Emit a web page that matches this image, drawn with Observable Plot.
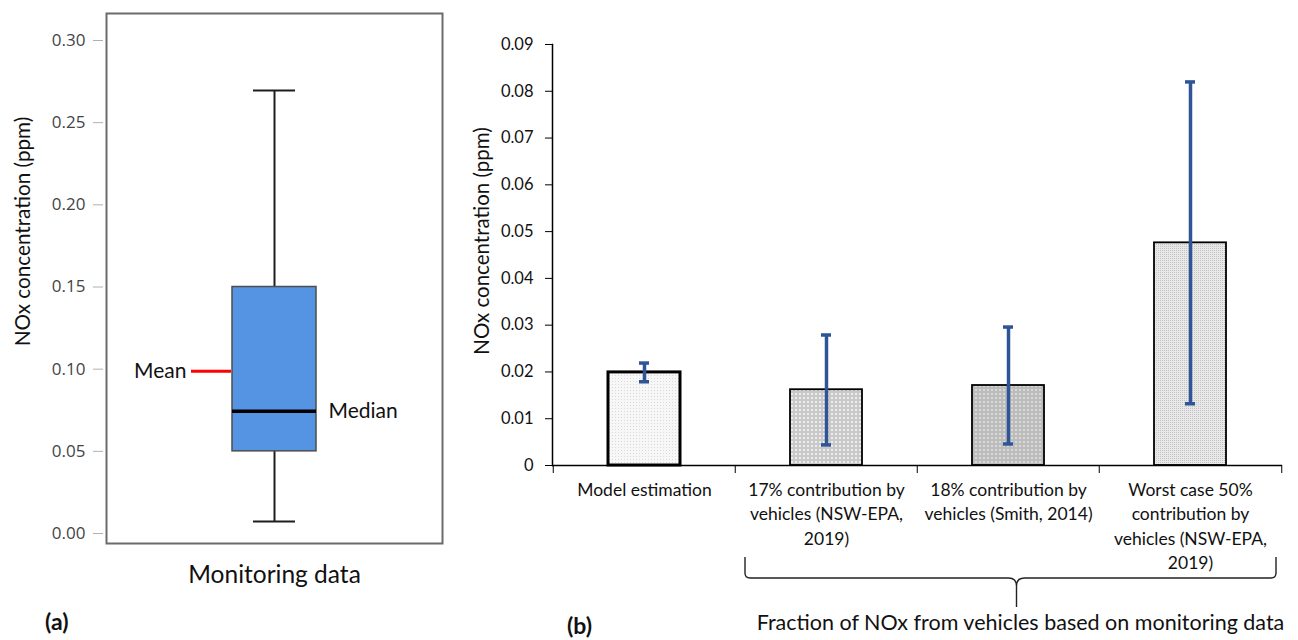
<!DOCTYPE html>
<html>
<head>
<meta charset="utf-8">
<script src="https://cdn.jsdelivr.net/npm/d3@7"></script>
<script src="https://cdn.jsdelivr.net/npm/@observablehq/plot@0.6"></script>
<style>
  body { margin: 0; background: #fff; }
  #wrap { position: relative; width: 1298px; height: 640px; font-family: Lato, "Open Sans", sans-serif; overflow: hidden; }
  .panel { position: absolute; top: 0; }
  .tag { position: absolute; font-weight: bold; font-size: 23px; line-height: 1; color: #111; font-family: Lato, sans-serif; }
</style>
</head>
<body>
<div id="wrap">
  <div id="pa" class="panel" style="left:0"></div>
  <div id="pb" class="panel" style="left:450px"></div>
  <div class="tag" style="left:45px; top:610px;">(a)</div>
  <div class="tag" style="left:567px; top:614px;">(b)</div>
</div>
<script>
// ---------- Panel (a): box plot of monitoring data ----------
const boxLabels = ["Monitoring data"];
const boxMin = [0.0073];
const boxQ1 = [0.050];
const boxMedian = [0.0744];
const boxQ3 = [0.150];
const boxMax = [0.2695];
const boxMean = [0.0988];
const boxTicks = [0, 0.05, 0.10, 0.15, 0.20, 0.25, 0.30];

// ---------- Panel (b): bar chart with error bars ----------
const barCategories = [
  "Model estimation",
  "17% contribution by\nvehicles (NSW-EPA,\n2019)",
  "18% contribution by\nvehicles (Smith, 2014)",
  "Worst case 50%\ncontribution by\nvehicles (NSW-EPA,\n2019)"
];
const barValues = [0.0199, 0.0162, 0.0171, 0.0476];
const errLow = [0.0179, 0.0044, 0.0046, 0.0132];
const errHigh = [0.0219, 0.0279, 0.0296, 0.0820];
const barTicks = [0, 0.01, 0.02, 0.03, 0.04, 0.05, 0.06, 0.07, 0.08, 0.09];
const yLabel = "NOx concentration (ppm)";
const groupLabel = "Fraction of NOx from vehicles based on monitoring data";

const boxTable = boxLabels.map((c, i) => ({
  cat: c, min: boxMin[i], q1: boxQ1[i], median: boxMedian[i], q3: boxQ3[i], max: boxMax[i], mean: boxMean[i]
}));
const barTable = barCategories.map((c, i) => ({ cat: c, value: barValues[i], lo: errLow[i], hi: errHigh[i] }));

const plotA = Plot.plot({
  width: 450,
  height: 640,
  marginLeft: 106,
  marginRight: 8,
  marginTop: 13,
  marginBottom: 97,
  style: { fontFamily: "Lato, sans-serif", background: "transparent" },
  x: { type: "band", domain: boxLabels, padding: 0.6, label: null },
  y: { domain: [-0.006085, 0.31643], label: null },
  marks: [
    Plot.ruleX(boxTable, { x: "cat", y1: "min", y2: "q1", stroke: "#1e1e1e", strokeWidth: 2 }),
    Plot.ruleX(boxTable, { x: "cat", y1: "q3", y2: "max", stroke: "#1e1e1e", strokeWidth: 2 }),
    Plot.tickY(boxTable, { x: "cat", y: "min", stroke: "#1e1e1e", strokeWidth: 2, insetLeft: 21, insetRight: 21 }),
    Plot.tickY(boxTable, { x: "cat", y: "max", stroke: "#1e1e1e", strokeWidth: 2, insetLeft: 21, insetRight: 21 }),
    Plot.barY(boxTable, { x: "cat", y1: "q1", y2: "q3", fill: "#5593e3", stroke: "#4d4d4d", strokeWidth: 1.5 }),
    Plot.tickY(boxTable, { x: "cat", y: "median", stroke: "#000", strokeWidth: 3.5 }),
    Plot.tickY(boxTable, { x: "cat", y: "mean", stroke: "#ff0000", strokeWidth: 3, insetRight: 44, dx: -41 }),
    Plot.text(boxTable, { x: "cat", y: "mean", text: () => "Mean", dx: -88, textAnchor: "end", fontSize: 21, fill: "#111" }),
    Plot.text(boxTable, { x: "cat", y: "median", text: () => "Median", dx: 54, textAnchor: "start", fontSize: 21, fill: "#111" }),
    Plot.frame({ stroke: "#6b6b6b", strokeWidth: 2 }),
    Plot.axisY({ ticks: boxTicks, tickFormat: d3.format(".2f"), tickSize: 10, tickPadding: 8, dx: -3,
      stroke: "#b0b0b0", fill: "#444", fontSize: 17, fontFamily: "Open Sans, sans-serif", label: null }),
    Plot.axisX({ tickSize: 0, tickPadding: 22, fontSize: 24.5, fill: "#111", label: null }),
    Plot.text([yLabel], { frameAnchor: "left", textAnchor: "middle", rotate: -90, dx: -83, dy: -47, fontSize: 20.7, fill: "#111" })
  ]
});
document.getElementById("pa").appendChild(plotA);

function patternDefs() {
  const defs = d3.create("svg:defs");
  function pat(id, size, bg, cells) {
    const p = defs.append("pattern").attr("id", id).attr("width", size).attr("height", size)
      .attr("patternUnits", "userSpaceOnUse");
    p.append("rect").attr("width", size).attr("height", size).attr("fill", bg);
    for (const [x, y, w, h, c] of cells) p.append("rect").attr("x", x).attr("y", y).attr("width", w).attr("height", h).attr("fill", c);
  }
  pat("pat1", 3, "#f7f7f7", [[0, 0, 1, 1, "#dadada"]]);
  pat("pat2", 4, "#c9c9c9", [[1, 1, 2, 2, "#ececec"]]);
  pat("pat3", 4, "#bcbcbc", [[1, 1, 2, 2, "#d9d9d9"]]);
  pat("pat4", 2, "#e8e8e8", [[0, 0, 1, 1, "#c4c4c4"]]);
  return defs.node();
}

function brace(index, scales, values, dimensions) {
  const x = scales.x;
  const step = x(barCategories[1]) - x(barCategories[0]);
  const bottom = dimensions.height - dimensions.marginBottom;
  const x0 = x(barCategories[1]) + 10;
  const x1 = x(barCategories[3]) + step - 5;
  const xm = (x0 + x1) / 2 + 6;
  const yTop = bottom + 92, yH = bottom + 113, yTip = bottom + 142;
  const g = d3.create("svg:g").attr("fill", "none").attr("stroke", "#222").attr("stroke-width", 1.4);
  g.append("path").attr("d",
    `M${x0},${yTop} V${yH - 5} Q${x0},${yH} ${x0 + 5},${yH} H${xm - 8} Q${xm},${yH} ${xm},${yH + 8} V${yTip}` +
    ` M${xm},${yH + 8} Q${xm},${yH} ${xm + 8},${yH} H${x1 - 5} Q${x1},${yH} ${x1},${yH - 5} V${yTop}`);
  g.append("text").attr("x", xm + 4).attr("y", bottom + 157).attr("dy", "0.35em")
    .attr("text-anchor", "middle").attr("stroke", "none").attr("fill", "#111")
    .attr("font-size", 21.5).attr("font-family", "Lato, sans-serif").text(groupLabel);
  return g.node();
}

const patIds = ["url(#pat1)", "url(#pat2)", "url(#pat3)", "url(#pat4)"];

const plotB = Plot.plot({
  width: 848,
  height: 640,
  marginLeft: 102,
  marginRight: 16,
  marginTop: 44,
  marginBottom: 175,
  style: { fontFamily: "Lato, sans-serif", background: "transparent" },
  x: { type: "band", domain: barCategories, padding: 0, label: null },
  y: { domain: [0, 0.09], label: null },
  marks: [
    patternDefs,
    ...barTable.map((d, i) => Plot.barY([d], { x: "cat", y: "value", fill: patIds[i], stroke: "#000",
      strokeWidth: i === 0 ? 3 : 1.8, insetLeft: 55, insetRight: 55 })),
    Plot.ruleX(barTable, { x: "cat", y1: "lo", y2: "hi", stroke: "#2f5597", strokeWidth: 3.5 }),
    Plot.tickY(barTable, { x: "cat", y: "lo", stroke: "#2f5597", strokeWidth: 3.5, insetLeft: 86, insetRight: 86 }),
    Plot.tickY(barTable, { x: "cat", y: "hi", stroke: "#2f5597", strokeWidth: 3.5, insetLeft: 86, insetRight: 86 }),
    Plot.frame({ anchor: "left", stroke: "#000", strokeWidth: 1.5 }),
    Plot.ruleY([0], { stroke: "#000", strokeWidth: 1.5 }),
    Plot.axisY({ ticks: barTicks, tickFormat: d => d === 0 ? "0" : d.toFixed(2), tickSize: 7, tickPadding: 12,
      stroke: "#000", fill: "#111", fontSize: 16.5, label: null }),
    Plot.axisX({ ticks: barCategories, tickSize: 8, text: null, dx: -91.25, stroke: "#000", label: null }),
    Plot.axisX({ ticks: [barCategories[3]], tickSize: 8, text: null, dx: 91.25, stroke: "#000", label: null }),
    Plot.axisX({ tickSize: 0, tickPadding: 13, fontSize: 17.5, lineHeight: 1.4, fill: "#111", label: null }),
    Plot.text([yLabel], { frameAnchor: "left", textAnchor: "middle", rotate: -90, dx: -70, dy: -14, fontSize: 20.5, fill: "#111" }),
    brace
  ]
});
document.getElementById("pb").appendChild(plotB);
</script>
</body>
</html>
